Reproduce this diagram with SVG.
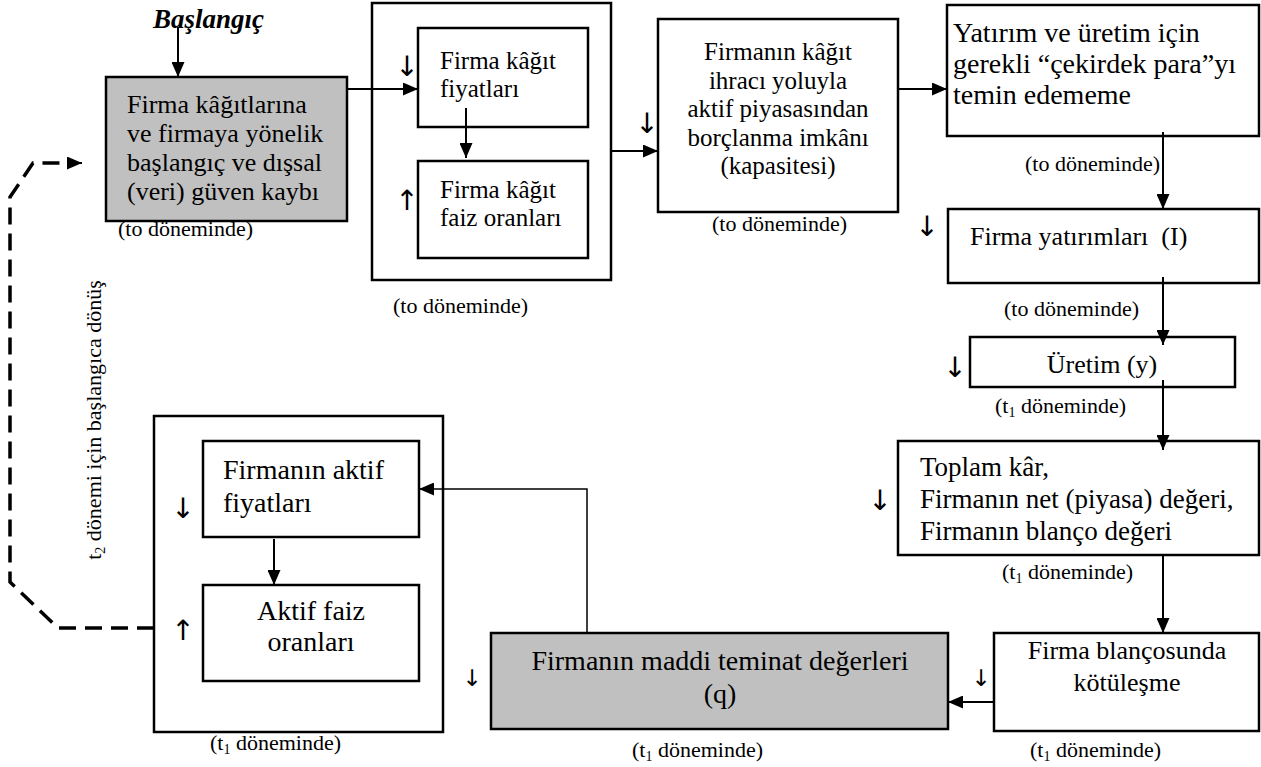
<svg xmlns="http://www.w3.org/2000/svg" width="1261" height="767" viewBox="0 0 1261 767" font-family="'Liberation Serif', 'Times New Roman', serif">
  <defs>
    <marker id="arrow" markerUnits="userSpaceOnUse" markerWidth="15" markerHeight="13" viewBox="0 0 15 13" refX="15" refY="6.5" orient="auto">
      <path d="M0,0 L15,6.5 L0,13 z" fill="#000"/>
    </marker>
    <style>
      text { font-family: "Liberation Serif", "Times New Roman", serif; fill: #000; }
      text.sym, text.symS { font-family: "DejaVu Sans", sans-serif; font-variant-emoji: text; fill: #000; }
      .box { fill: #fff; stroke: #000; stroke-width: 2.5; }
      .grey { fill: #c0c0c0; stroke: #000; stroke-width: 2.5; }
      .frame { fill: none; stroke: #000; stroke-width: 2.5; }
      .t25 { font-size: 25px; }
      .t26 { font-size: 26px; }
      .t27 { font-size: 27px; }
      .t28 { font-size: 28px; }
      .lbl { font-size: 22px; }
      .sub { font-size: 14px; }
      .sym { font-size: 28px; }
      .symS { font-size: 23px; }
      .conn { fill: none; stroke: #000; stroke-width: 2; }
      .thin { fill: none; stroke: #000; stroke-width: 1.5; }
      .dash { fill: none; stroke: #000; stroke-width: 3.5; stroke-dasharray: 17 9; }
    </style>
  </defs>

  <!-- start label -->
  <g id="start">
    <text x="153" y="28" font-size="27" font-weight="bold" font-style="italic">Başlangıç</text>
  </g>

  <!-- initial loss of confidence -->
  <g id="n-guven">
    <rect class="grey" x="106" y="77" width="241" height="144"/>
    <text class="t26" x="127" y="113">Firma kâğıtlarına</text>
    <text class="t26" x="127" y="142">ve firmaya yönelik</text>
    <text class="t26" x="127" y="171">başlangıç ve dışsal</text>
    <text class="t26" x="127" y="200">(veri) güven kaybı</text>
    <text class="lbl" x="118" y="236">(to döneminde)</text>
  </g>

  <!-- security prices and rates -->
  <g id="n-kagit">
    <rect class="frame" x="372" y="3" width="239" height="277"/>
    <rect class="box" x="418" y="28" width="170" height="99"/>
    <text class="t25" x="440" y="69">Firma kâğıt</text>
    <text class="t25" x="440" y="97">fiyatları</text>
    <rect class="box" x="418" y="161" width="170" height="97"/>
    <text class="t25" x="440" y="198">Firma kâğıt</text>
    <text class="t25" x="440" y="226">faiz oranları</text>
    <text class="sym" x="407" y="76" text-anchor="middle">↓︎</text>
    <text class="sym" x="407" y="210" text-anchor="middle">↑︎</text>
    <text class="lbl" x="393" y="313">(to döneminde)</text>
  </g>

  <!-- borrowing capacity -->
  <g id="n-borc">
    <rect class="box" x="658" y="19" width="240" height="193"/>
    <text class="t25" x="778" y="60" text-anchor="middle">Firmanın kâğıt</text>
    <text class="t25" x="778" y="89" text-anchor="middle">ihracı yoluyla</text>
    <text class="t25" x="778" y="117" text-anchor="middle">aktif piyasasından</text>
    <text class="t25" x="778" y="146" text-anchor="middle">borçlanma imkânı</text>
    <text class="t25" x="778" y="174" text-anchor="middle">(kapasitesi)</text>
    <text class="sym" x="647" y="133" text-anchor="middle">↓︎</text>
    <text class="lbl" x="712" y="231">(to döneminde)</text>
  </g>

  <!-- seed money -->
  <g id="n-para">
    <rect class="box" x="947" y="5" width="312" height="131"/>
    <text class="t28" x="953" y="42">Yatırım ve üretim için</text>
    <text class="t28" x="953" y="73">gerekli “çekirdek para”yı</text>
    <text class="t28" x="953" y="104">temin edememe</text>
    <text class="lbl" x="1025" y="171">(to döneminde)</text>
  </g>

  <!-- investment -->
  <g id="n-yatirim">
    <rect class="box" x="948" y="209" width="311" height="74"/>
    <text class="t26" x="970" y="245" xml:space="preserve">Firma yatırımları  (I)</text>
    <text class="sym" x="927" y="236" text-anchor="middle">↓︎</text>
    <text class="lbl" x="1004" y="316">(to döneminde)</text>
  </g>

  <!-- production -->
  <g id="n-uretim">
    <rect class="box" x="970" y="337" width="265" height="50"/>
    <text class="t26" x="1102" y="373" text-anchor="middle">Üretim (y)</text>
    <text class="sym" x="955" y="377" text-anchor="middle">↓︎</text>
    <text class="lbl" x="995" y="413">(t<tspan class="sub" dy="4">1</tspan><tspan dy="-4"> döneminde)</tspan></text>
  </g>

  <!-- profit and net worth -->
  <g id="n-kar">
    <rect class="box" x="898" y="441" width="361" height="114"/>
    <text class="t27" x="920" y="476">Toplam kâr,</text>
    <text class="t27" x="920" y="508">Firmanın net (piyasa) değeri,</text>
    <text class="t27" x="920" y="540">Firmanın blanço değeri</text>
    <text class="sym" x="880" y="510" text-anchor="middle">↓︎</text>
    <text class="lbl" x="1002" y="579">(t<tspan class="sub" dy="4">1</tspan><tspan dy="-4"> döneminde)</tspan></text>
  </g>

  <!-- balance sheet deterioration -->
  <g id="n-blanco">
    <rect class="box" x="994" y="633" width="265" height="98"/>
    <text class="t26" x="1127" y="659" text-anchor="middle">Firma blançosunda</text>
    <text class="t26" x="1127" y="691" text-anchor="middle">kötüleşme</text>
    <text class="symS" x="981" y="686" text-anchor="middle">↓︎</text>
    <text class="lbl" x="1030" y="757">(t<tspan class="sub" dy="4">1</tspan><tspan dy="-4"> döneminde)</tspan></text>
  </g>

  <!-- collateral values -->
  <g id="n-teminat">
    <rect class="grey" x="491" y="633" width="457" height="96"/>
    <text class="t28" x="720" y="670" text-anchor="middle">Firmanın maddi teminat değerleri</text>
    <text class="t28" x="720" y="703" text-anchor="middle">(q)</text>
    <text class="symS" x="472" y="686" text-anchor="middle">↓︎</text>
    <text class="lbl" x="632" y="757">(t<tspan class="sub" dy="4">1</tspan><tspan dy="-4"> döneminde)</tspan></text>
  </g>

  <!-- asset prices and rates -->
  <g id="n-aktif">
    <rect class="frame" x="154" y="416" width="289" height="316"/>
    <rect class="box" x="203" y="441" width="216" height="96"/>
    <text class="t28" x="223" y="479">Firmanın aktif</text>
    <text class="t28" x="223" y="512">fiyatları</text>
    <rect class="box" x="203" y="585" width="216" height="96"/>
    <text class="t28" x="311" y="620" text-anchor="middle">Aktif faiz</text>
    <text class="t28" x="311" y="651" text-anchor="middle">oranları</text>
    <text class="sym" x="183" y="518" text-anchor="middle">↓︎</text>
    <text class="sym" x="183" y="640" text-anchor="middle">↑︎</text>
    <text class="lbl" x="210" y="750">(t<tspan class="sub" dy="4">1</tspan><tspan dy="-4"> döneminde)</tspan></text>
  </g>

  <!-- return loop label -->
  <g id="loop-label">
    <text class="lbl" transform="translate(101,420) rotate(-90)" text-anchor="middle">t<tspan class="sub" dy="4">2</tspan><tspan dy="-4"> dönemi için başlangıca dönüş</tspan></text>
  </g>

  <!-- connectors -->
  <g id="connectors">
    <line class="conn" x1="178" y1="27" x2="178" y2="77" marker-end="url(#arrow)"/>
    <line class="conn" x1="347" y1="89" x2="418" y2="89" marker-end="url(#arrow)"/>
    <line class="conn" x1="466" y1="108" x2="466" y2="158" marker-end="url(#arrow)"/>
    <line class="conn" x1="611" y1="151" x2="658" y2="151" marker-end="url(#arrow)"/>
    <line class="conn" x1="898" y1="89" x2="947" y2="89" marker-end="url(#arrow)"/>
    <line class="conn" x1="1163" y1="132" x2="1163" y2="209" marker-end="url(#arrow)"/>
    <line class="conn" x1="1163" y1="277" x2="1163" y2="345" marker-end="url(#arrow)"/>
    <line class="conn" x1="1163" y1="380" x2="1163" y2="450" marker-end="url(#arrow)"/>
    <line class="conn" x1="1163" y1="555" x2="1163" y2="633" marker-end="url(#arrow)"/>
    <line class="conn" x1="994" y1="702" x2="948" y2="702" marker-end="url(#arrow)"/>
    <polyline class="thin" points="587,633 587,489 419,489" marker-end="url(#arrow)"/>
    <line class="conn" x1="274" y1="539" x2="274" y2="585" marker-end="url(#arrow)"/>
    <path class="dash" d="M154,628 L58,628 L10,582 L10,197 L33,163 L70,163"/>
    <line class="conn" x1="68" y1="163" x2="82" y2="163" marker-end="url(#arrow)"/>
  </g>
</svg>
